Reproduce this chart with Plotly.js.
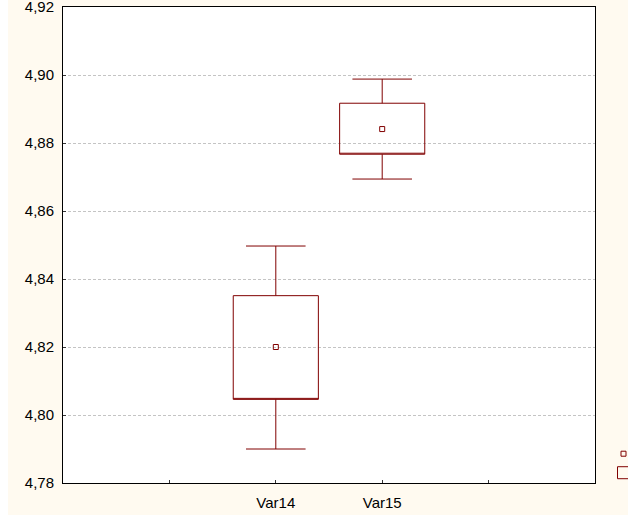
<!DOCTYPE html>
<html>
<head>
<meta charset="utf-8">
<script src="https://cdn.plot.ly/plotly-3.0.1.min.js"></script>
<style>html,body{margin:0;padding:0;background:#fffaf0;}#chart{width:628px;height:515px;}</style>
</head>
<body>
<div id="chart"></div>
<script>
// Data (Mean, ±SE box, ±1.96*SE whiskers)
const categories = ["Var14", "Var15"];
const lowerValues = [4.7900, 4.8694];
const q1Values    = [4.8046, 4.8767];
const meanValues  = [4.8200, 4.8841];
const q3Values    = [4.8351, 4.8917];
const upperValues = [4.8497, 4.8988];
const tickValues  = [1, 2, 3, 4];
const tickLabels  = ["", "Var14", "Var15", ""];
const yTicks      = [4.78, 4.80, 4.82, 4.84, 4.86, 4.88, 4.90, 4.92];

const xPos = categories.map(c => tickValues[tickLabels.indexOf(c)]);
const dark = "#800000";

const boxTrace = {
  type: "box",
  name: "",
  x: xPos,
  q1: q1Values,
  median: q1Values,
  q3: q3Values,
  lowerfence: lowerValues,
  upperfence: upperValues,
  width: 0.8,
  whiskerwidth: 0.7,
  boxpoints: false,
  line: {color: dark, width: 1},
  fillcolor: "rgba(0,0,0,0)",
  hoverinfo: "skip",
  showlegend: true
};

const meanTrace = {
  type: "scatter",
  mode: "markers",
  name: "",
  x: xPos,
  y: meanValues,
  marker: {symbol: "square-open", size: 5, color: dark, line: {color: dark, width: 1}},
  hoverinfo: "skip",
  showlegend: true
};

const font = {family: "Liberation Sans, Arial, sans-serif", size: 15, color: "#000"};

const layout = {
  width: 628,
  height: 515,
  margin: {l: 63, r: 33, t: 7, b: 32, pad: 0, autoexpand: false},
  paper_bgcolor: "#fffaf0",
  plot_bgcolor: "#ffffff",
  separators: ",.",
  font: font,
  showlegend: true,
  legend: {
    x: 1.016, xanchor: "left", y: 0.092, yanchor: "top",
    bgcolor: "rgba(0,0,0,0)", font: {size: 11, family: font.family, color: "#000"},
    traceorder: "reversed", itemwidth: 30
  },
  xaxis: {
    range: [0, 5],
    tickmode: "array",
    tickvals: tickValues,
    ticktext: tickLabels,
    ticks: "inside",
    ticklen: 3,
    tickcolor: "#333",
    showgrid: false,
    zeroline: false,
    showline: true,
    linecolor: "#000",
    linewidth: 1,
    mirror: true,
    ticklabelstandoff: 6,
    tickfont: font
  },
  yaxis: {
    range: [4.78, 4.92],
    tickmode: "array",
    tickvals: yTicks,
    tickformat: ".2f",
    ticks: "inside",
    ticklen: 3,
    tickcolor: "#333",
    showgrid: true,
    gridcolor: "#c4c4c4",
    griddash: "3px,2px",
    gridwidth: 1,
    zeroline: false,
    showline: true,
    linecolor: "#000",
    linewidth: 1,
    mirror: true,
    ticklabelstandoff: 5,
    ticklabeloverflow: "allow",
    tickfont: font
  },
  shapes: [
    {type: "rect", xref: "paper", yref: "paper", x0: -63/532, x1: -55/532, y0: -32/476, y1: 1 + 7/476,
     fillcolor: "#ffffff", line: {width: 0}, layer: "below"}
  ]
};

Plotly.newPlot("chart", [boxTrace, meanTrace], layout, {displayModeBar: false, staticPlot: true});
</script>
</body>
</html>
